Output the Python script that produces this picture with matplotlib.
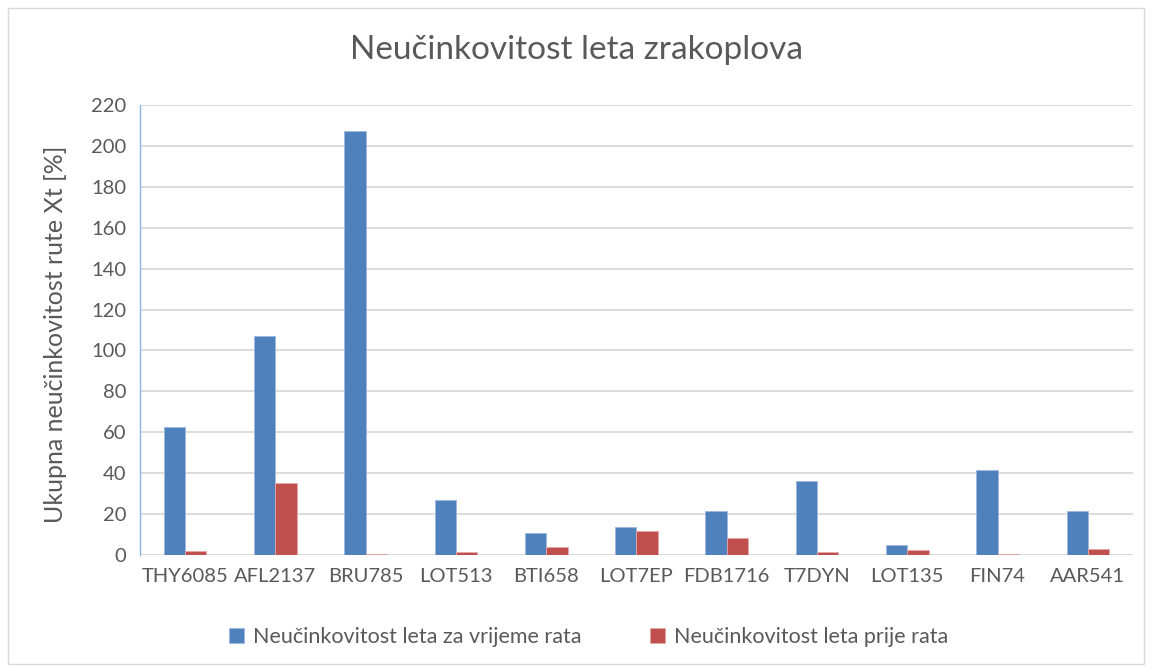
import numpy as np
import matplotlib.pyplot as plt
from matplotlib.patches import Rectangle

plt.rcParams['font.family'] = ['Lato', 'DejaVu Sans']

flights = ['THY6085', 'AFL2137', 'BRU785', 'LOT513', 'BTI658', 'LOT7EP',
           'FDB1716', 'T7DYN', 'LOT135', 'FIN74', 'AAR541']
during_war = [62.4, 107.0, 207.3, 27.0, 10.8, 13.7, 21.7, 36.4, 5.0, 41.8, 21.7]
before_war = [2.0, 35.0, 0.7, 1.6, 3.7, 11.6, 8.1, 1.5, 2.6, 0.4, 3.1]

blue = '#4F81BD'
red = '#C0504D'
grid_col = '#D9D9D9'
text_col = '#595959'

fig = plt.figure(figsize=(11.52, 6.72), dpi=100)
ax = fig.add_axes([0.1215, 0.1741, 0.862, 0.6696])

x = np.arange(len(flights))
w = 0.236
ax.bar(x - w / 2, during_war, w, color=blue, edgecolor='#9DB9DE', linewidth=0.6,
       label='Neučinkovitost leta za vrijeme rata', zorder=3)
ax.bar(x + w / 2, before_war, w, color=red, edgecolor='#E3A9A8', linewidth=0.6,
       label='Neučinkovitost leta prije rata', zorder=3)

ax.set_xlim(-0.5, len(flights) - 0.5)
ax.set_ylim(0, 220)
ax.set_yticks(range(0, 221, 20))
ax.set_xticks(x)
ax.set_xticklabels(flights)
ax.yaxis.grid(True, color=grid_col, linewidth=1.3, zorder=0)
ax.set_axisbelow(True)
for side in ['top', 'right', 'bottom']:
    ax.spines[side].set_visible(False)
ax.spines['left'].set_color('#8EB4E3')
ax.spines['left'].set_linewidth(1.0)
ax.axhline(0, color=grid_col, linewidth=1.3, zorder=2)
ax.tick_params(axis='both', length=0, labelsize=14.5, colors=text_col, pad=9)
ax.tick_params(axis='y', pad=10)

ax.set_ylabel('Ukupna neučinkovitost rute Xt [%]', fontsize=18, color=text_col)
ax.yaxis.set_label_coords(-0.0735, 0.49)
fig.text(0.5, 0.926, 'Neučinkovitost leta zrakoplova', ha='center', va='center',
         fontsize=24, color=text_col)

fig.legend(loc='center', bbox_to_anchor=(0.511, 0.052), ncol=2, frameon=False,
           fontsize=15.5, labelcolor=text_col, handlelength=0.7, handleheight=0.7,
           columnspacing=3.2, handletextpad=0.4)

fig.patches.append(Rectangle((0.007, 0.012), 0.986, 0.976, transform=fig.transFigure,
                             fill=False, edgecolor=grid_col, linewidth=1.0))

fig.savefig('out.png', dpi=100)
